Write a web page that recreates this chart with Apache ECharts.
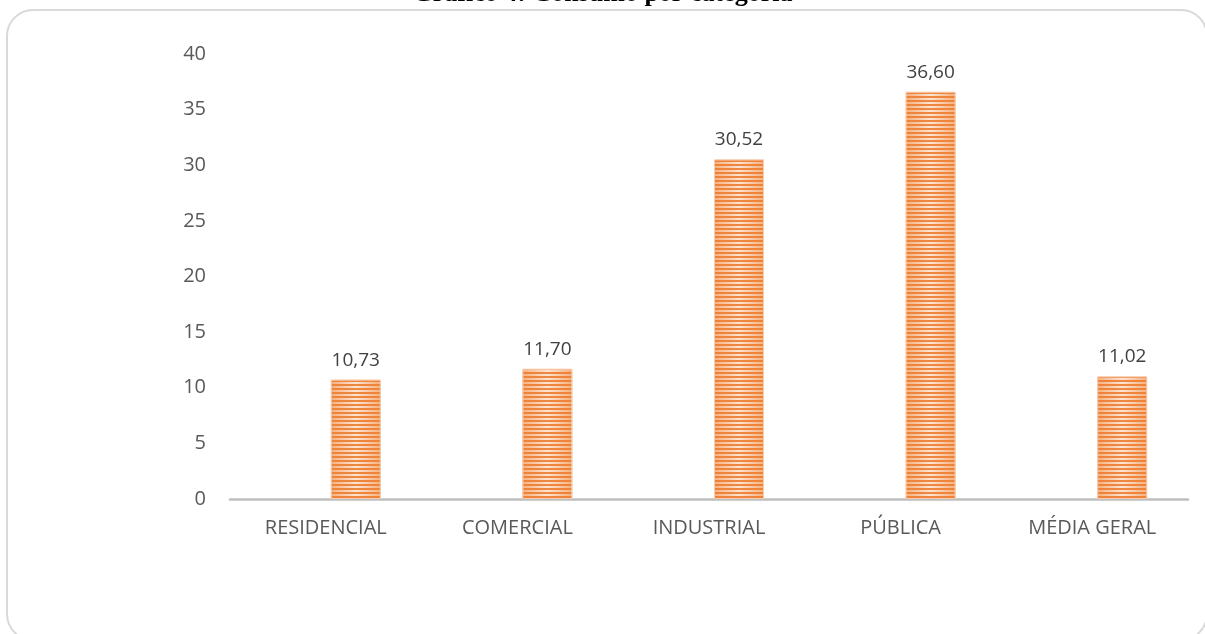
<!DOCTYPE html>
<html><head><meta charset="utf-8">
<script src="https://cdn.jsdelivr.net/npm/echarts@6/dist/echarts.min.js"></script>
<style>html,body{margin:0;padding:0;background:#fff}#c{width:1205px;height:634px}</style>
</head><body><div id="c"></div>
<script>
const titleText = 'Gráfico 4: Consumo por categoria';
const categories = ['RESIDENCIAL', 'COMERCIAL', 'INDUSTRIAL', 'PÚBLICA', 'MÉDIA GERAL'];
const values = [10.73, 11.70, 30.52, 36.60, 11.02];
const emptySeries = [null, null, null, null, null];

const chart = echarts.init(document.getElementById('c'));
const font = '"Open Sans", "Noto Sans", sans-serif';
chart.setOption({
  animation: false,
  title: {
    text: titleText, left: 'center', top: -24,
    textStyle: { fontFamily: '"Liberation Serif", "Times New Roman", serif', fontWeight: 'bold', fontSize: 26, color: '#000' }
  },
  graphic: [{
    type: 'rect', shape: { x: 7, y: 10, width: 1200, height: 630, r: 26 },
    style: { fill: 'none', stroke: '#d9d9d9', lineWidth: 2 }, z: -1
  }],
  grid: { left: 230, right: 17, top: 54, bottom: 135 },
  xAxis: {
    type: 'category', data: categories,
    axisLine: { lineStyle: { color: '#bfbfbf', width: 2.5 } },
    axisTick: { show: false },
    axisLabel: { color: '#595959', fontSize: 20, fontFamily: font, margin: 19 }
  },
  yAxis: {
    type: 'value', min: 0, max: 40, interval: 5,
    axisLine: { show: false }, axisTick: { show: false }, splitLine: { show: false },
    axisLabel: { color: '#595959', fontSize: 20, fontFamily: font, margin: 24 }
  },
  series: [
    { type: 'bar', data: emptySeries, barWidth: 50, barGap: '20%' },
    {
      type: 'bar', data: values, barWidth: 50, barGap: '20%',
      itemStyle: {
        color: { type: 'linear', x: 0, y: 0, x2: 1, y2: 0, colorStops: [
          { offset: 0, color: '#f5b07e' }, { offset: 0.5, color: '#fde4d2' }, { offset: 1, color: '#f5b07e' } ] },
        borderColor: '#f8cbad', borderWidth: 1,
        decal: { symbol: 'rect', symbolSize: 1, color: 'rgba(237,125,49,0.9)', dashArrayX: [1, 0], dashArrayY: [2, 1.5], rotation: 0 }
      },
      label: {
        show: true, position: 'top', distance: 10, color: '#404040', fontSize: 19, fontFamily: font,
        formatter: p => p.value.toFixed(2).replace('.', ',')
      }
    }
  ]
});
</script></body></html>
